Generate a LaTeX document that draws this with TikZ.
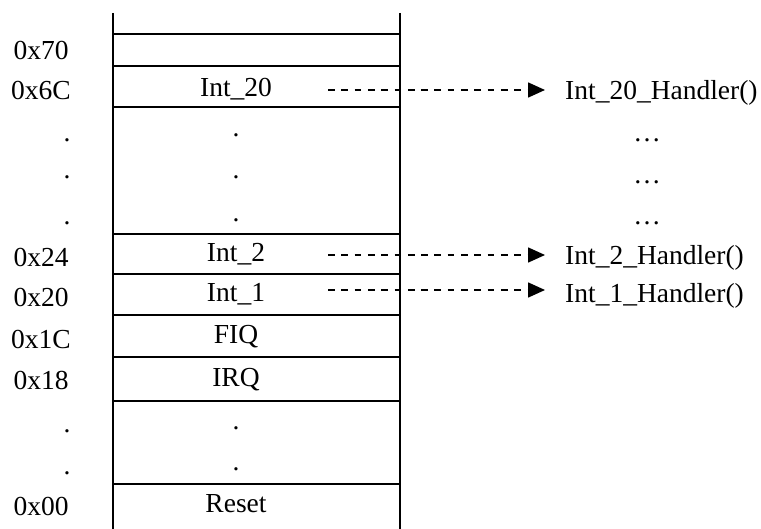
\documentclass[tikz,border=0pt]{standalone}
\usepackage{fontspec}
\setmainfont{Liberation Serif}
\usetikzlibrary{arrows.meta}
\begin{document}
\begin{tikzpicture}[x=1pt,y=-1pt,
  wall/.style={line width=2.2pt},
  rowline/.style={line width=1.7pt},
  txt/.style={inner sep=0pt,anchor=base,font=\fontsize{27.5}{33}\selectfont},
  handler/.style={txt,anchor=base west},
  dasharrow/.style={line width=1.6pt,dash pattern=on 6.7pt off 6.6pt,
    -{Triangle[length=17pt,width=15pt]},shorten >=20pt}]
\useasboundingbox (0,0) rectangle (761,529);

% memory column
\draw[wall] (113,13) -- (113,529);
\draw[wall] (400,13) -- (400,529);
\foreach \y in {34,66,107,234,274,315,357,401,484}
  \draw[rowline] (113,\y) -- (400,\y);

% addresses
\node[txt] (a70) at (41,60)  {0x70};
\node[txt] (a6C) at (41,100) {0x6C};
\node[txt] (ad1) at (67,142) {.};
\node[txt] (ad2) at (67,179) {.};
\node[txt] (ad3) at (67,225) {.};
\node[txt] (a24) at (41,267) {0x24};
\node[txt] (a20) at (41,307) {0x20};
\node[txt] (a1C) at (41,349) {0x1C};
\node[txt] (a18) at (41,390) {0x18};
\node[txt] (ad4) at (67,432) {.};
\node[txt] (ad5) at (67,475) {.};
\node[txt] (a00) at (41,515) {0x00};

% vector table entries
\node[txt] (v20) at (236,97)  {Int\_20};
\node[txt] (vd1) at (236,137) {.};
\node[txt] (vd2) at (236,179) {.};
\node[txt] (vd3) at (236,222) {.};
\node[txt] (v2)  at (236,262) {Int\_2};
\node[txt] (v1)  at (236,302) {Int\_1};
\node[txt] (vfiq) at (236,344) {FIQ};
\node[txt] (virq) at (236,387) {IRQ};
\node[txt] (vd4) at (236,430) {.};
\node[txt] (vd5) at (236,470) {.};
\node[txt] (vrst) at (236,512) {Reset};

% handlers
\node[handler] (h20) at (565,100) {Int\_20\_Handler()};
\node[txt] (e1) at (647,142) {\dots};
\node[txt] (e2) at (647,184) {\dots};
\node[txt] (e3) at (647,225) {\dots};
\node[handler] (h2) at (565,265) {Int\_2\_Handler()};
\node[handler] (h1) at (565,303) {Int\_1\_Handler()};

% pointers from entries to handlers
\coordinate (s20) at (328,90);
\coordinate (s2)  at (328,255);
\coordinate (s1)  at (328,290);
\draw[dasharrow] (s20) -- (s20 -| h20.west);
\draw[dasharrow] (s2)  -- (s2 -| h2.west);
\draw[dasharrow] (s1)  -- (s1 -| h1.west);
\end{tikzpicture}
\end{document}
